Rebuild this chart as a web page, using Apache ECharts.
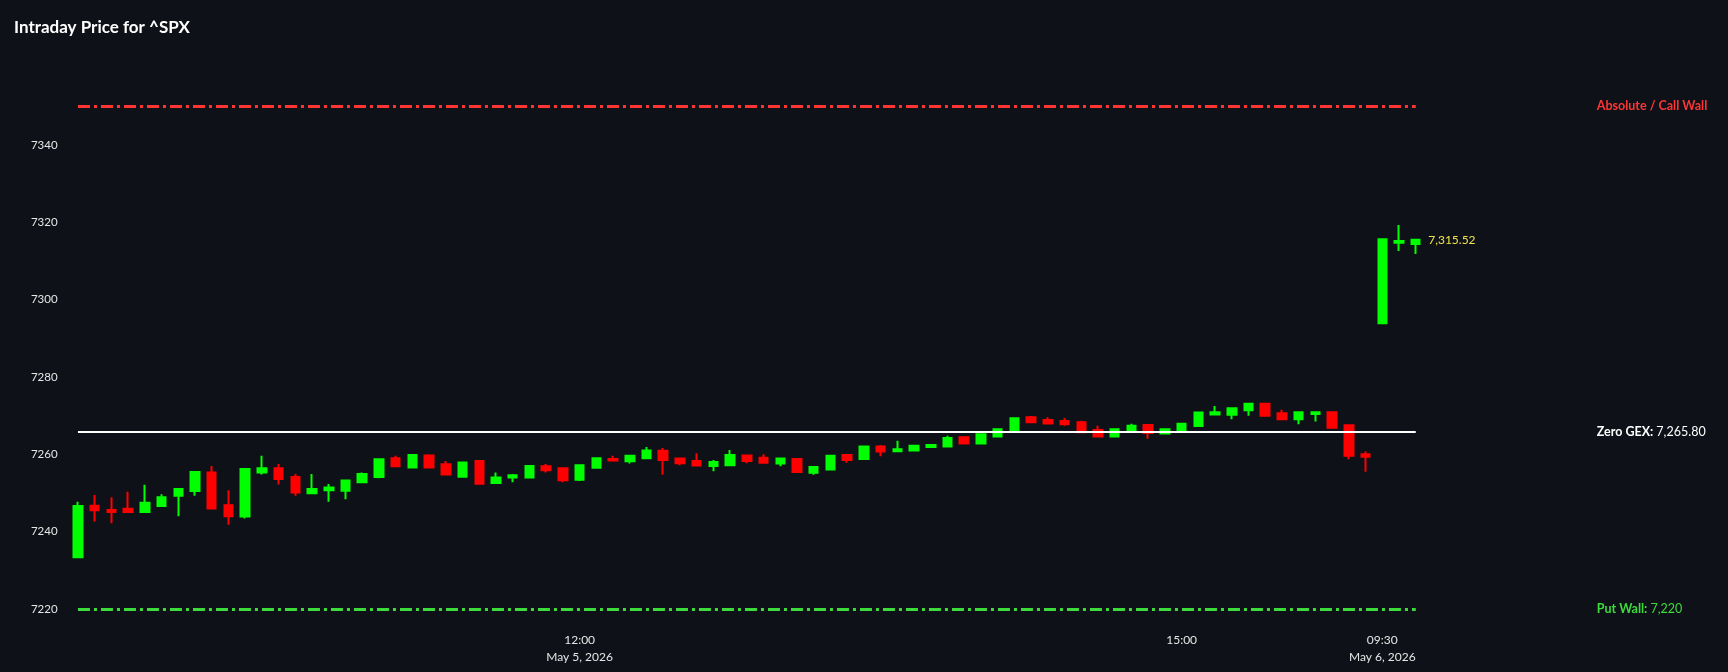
<!DOCTYPE html>
<html>
<head>
<meta charset="utf-8">
<script src="https://cdn.jsdelivr.net/npm/echarts@6/dist/echarts.min.js"></script>
<style>
html,body{margin:0;padding:0;background:#0e1117;}
#chart{width:1728px;height:672px;}
</style>
</head>
<body>
<div id="chart"></div>
<script>
const categories = [
"2026-05-05 09:30","2026-05-05 09:35","2026-05-05 09:40","2026-05-05 09:45","2026-05-05 09:50","2026-05-05 09:55",
"2026-05-05 10:00","2026-05-05 10:05","2026-05-05 10:10","2026-05-05 10:15","2026-05-05 10:20","2026-05-05 10:25",
"2026-05-05 10:30","2026-05-05 10:35","2026-05-05 10:40","2026-05-05 10:45","2026-05-05 10:50","2026-05-05 10:55",
"2026-05-05 11:00","2026-05-05 11:05","2026-05-05 11:10","2026-05-05 11:15","2026-05-05 11:20","2026-05-05 11:25",
"2026-05-05 11:30","2026-05-05 11:35","2026-05-05 11:40","2026-05-05 11:45","2026-05-05 11:50","2026-05-05 11:55",
"2026-05-05 12:00","2026-05-05 12:05","2026-05-05 12:10","2026-05-05 12:15","2026-05-05 12:20","2026-05-05 12:25",
"2026-05-05 12:30","2026-05-05 12:35","2026-05-05 12:40","2026-05-05 12:45","2026-05-05 12:50","2026-05-05 12:55",
"2026-05-05 13:00","2026-05-05 13:05","2026-05-05 13:10","2026-05-05 13:15","2026-05-05 13:20","2026-05-05 13:25",
"2026-05-05 13:30","2026-05-05 13:35","2026-05-05 13:40","2026-05-05 13:45","2026-05-05 13:50","2026-05-05 13:55",
"2026-05-05 14:00","2026-05-05 14:05","2026-05-05 14:10","2026-05-05 14:15","2026-05-05 14:20","2026-05-05 14:25",
"2026-05-05 14:30","2026-05-05 14:35","2026-05-05 14:40","2026-05-05 14:45","2026-05-05 14:50","2026-05-05 14:55",
"2026-05-05 15:00","2026-05-05 15:05","2026-05-05 15:10","2026-05-05 15:15","2026-05-05 15:20","2026-05-05 15:25",
"2026-05-05 15:30","2026-05-05 15:35","2026-05-05 15:40","2026-05-05 15:45","2026-05-05 15:50","2026-05-05 15:55",
"2026-05-06 09:30","2026-05-06 09:35","2026-05-06 09:40"
];
const openVals = [7233.4,7246.7,7245.6,7245.9,7245.1,7246.6,7249.3,7250.5,7255.3,7246.8,7243.9,7255.3,7256.4,7254.1,7249.9,7250.7,7250.6,7252.8,7254.1,7259.0,
7256.6,7259.7,7257.4,7254.2,7258.3,7252.6,7254.0,7254.0,7256.9,7256.4,7253.4,7256.5,7258.8,7258.2,7259.0,7260.9,7258.9,7258.3,7257.0,7257.2,
7259.7,7259.1,7257.6,7258.8,7255.2,7256.1,7259.8,7258.8,7262.0,7260.8,7261.0,7261.9,7262.0,7264.4,7262.8,7264.6,7266.0,7269.6,7268.9,7268.6,
7268.3,7266.3,7264.6,7265.8,7267.6,7265.4,7265.8,7267.3,7270.3,7270.2,7271.4,7273.1,7270.6,7269.1,7270.4,7270.9,7267.5,7260.0,
7293.9,7314.7,7314.4];
const closeVals = [7246.6,7245.5,7245.1,7245.1,7247.5,7248.9,7251.0,7255.4,7246.0,7244.0,7256.2,7256.4,7253.6,7250.1,7251.0,7251.4,7253.2,7254.9,7258.7,7256.9,
7259.8,7256.6,7254.8,7257.9,7252.4,7254.0,7254.6,7257.0,7255.9,7253.3,7257.2,7259.0,7258.4,7259.6,7261.0,7258.5,7257.7,7257.1,7258.0,7259.8,
7258.3,7257.8,7258.9,7255.4,7256.7,7259.6,7258.5,7262.0,7260.7,7261.3,7262.2,7262.4,7264.2,7262.8,7265.2,7266.5,7269.3,7268.3,7268.0,7267.8,
7265.7,7264.6,7266.5,7267.4,7265.5,7266.5,7267.9,7270.8,7270.9,7271.9,7273.1,7270.0,7269.1,7270.9,7270.9,7266.9,7259.6,7259.4,
7315.6,7315.2,7315.52];
const lowVals = [7233.4,7242.6,7242.2,7245.0,7245.1,7246.4,7244.0,7249.3,7245.8,7241.8,7243.4,7254.8,7252.2,7249.3,7249.7,7247.7,7248.4,7252.5,7253.8,7256.8,
7256.5,7256.5,7254.7,7254.1,7252.3,7252.5,7252.8,7253.9,7255.3,7252.8,7253.1,7256.4,7258.3,7257.6,7258.9,7254.7,7257.2,7257.0,7255.6,7257.1,
7257.7,7257.7,7256.9,7255.3,7254.7,7256.0,7257.8,7258.7,7259.5,7260.7,7260.7,7261.8,7261.9,7262.7,7262.7,7264.4,7265.9,7268.2,7267.9,7267.4,
7265.6,7264.5,7264.5,7265.7,7264.0,7265.3,7265.7,7267.2,7270.2,7269.1,7270.0,7269.9,7269.0,7267.8,7268.5,7266.8,7258.7,7255.5,
7293.9,7312.6,7311.8];
const highVals = [7247.7,7249.5,7248.9,7250.3,7252.1,7249.7,7251.2,7255.5,7257.0,7250.7,7256.3,7259.6,7257.5,7254.9,7254.9,7252.3,7253.3,7255.3,7258.8,7259.6,
7260.0,7260.0,7258.3,7258.0,7258.4,7255.3,7254.9,7257.2,7257.5,7256.5,7257.3,7259.2,7259.6,7259.7,7261.9,7261.6,7259.0,7260.3,7258.5,7261.1,
7259.8,7260.0,7259.0,7258.9,7256.8,7259.7,7259.9,7262.1,7262.4,7263.5,7262.3,7262.5,7264.8,7264.5,7265.3,7266.7,7269.4,7269.9,7269.6,7269.4,
7268.7,7267.4,7266.6,7267.9,7267.7,7266.7,7268.0,7270.9,7272.5,7272.0,7273.2,7273.3,7271.5,7271.0,7271.0,7271.0,7267.6,7260.7,
7315.8,7319.3,7315.7];
const callWall = 7350;
const zeroGex = 7265.80;
const putWall = 7220;
const tickCats = ["2026-05-05 12:00","2026-05-05 15:00","2026-05-06 09:30"];
const tickTexts = ["12:00\nMay 5, 2026","15:00","09:30\nMay 6, 2026"];

const fmt = (v, d) => v.toLocaleString('en-US', {minimumFractionDigits: d, maximumFractionDigits: d});
const candleData = openVals.map((o, i) => [o, closeVals[i], lowVals[i], highVals[i]]);
const firstCat = categories[0], lastCat = categories[categories.length - 1];
const lastClose = closeVals[closeVals.length - 1];
const FONT = 'Lato';

const chart = echarts.init(document.getElementById('chart'), null, {renderer: 'canvas'});
chart.setOption({
  backgroundColor: '#0e1117',
  animation: false,
  textStyle: {fontFamily: FONT},
  title: {
    text: 'Intraday Price for ^SPX', left: 9, top: 14,
    textStyle: {color: '#ffffff', fontSize: 17, fontWeight: 'bold', fontFamily: FONT}
  },
  grid: {left: 69.6, right: 303.9, top: 87, bottom: 43.7},
  xAxis: {
    type: 'category', data: categories, boundaryGap: true,
    axisLine: {show: false}, axisTick: {show: false}, splitLine: {show: false},
    axisLabel: {
      color: '#e6e6e6', fontSize: 12, fontFamily: FONT, margin: 3, lineHeight: 17,
      interval: (idx, val) => tickCats.includes(val),
      formatter: (val) => { const k = tickCats.indexOf(val); return k >= 0 ? tickTexts[k] : ''; }
    }
  },
  yAxis: {
    type: 'value', min: 7215, max: 7355, interval: 5, scale: true,
    axisLine: {show: false}, axisTick: {show: false}, splitLine: {show: false},
    axisLabel: {
      color: '#e6e6e6', fontSize: 11.5, fontFamily: FONT, margin: 12,
      formatter: (v) => (v % 20 === 0 ? String(v) : '')
    }
  },
  series: [{
    type: 'candlestick',
    data: candleData,
    barWidth: 9,
    itemStyle: {color: '#00ff00', color0: '#ff0000', borderColor: '#00ff00', borderColor0: '#ff0000', borderWidth: 2},
    markLine: {
      silent: true, symbol: ['none', 'none'], animation: false,
      data: [
        [{coord: [firstCat, callWall], lineStyle: {color: '#ff3535', width: 3, type: [12, 4, 3, 4]},
          label: {show: true, position: 'end', distance: 181, formatter: 'Absolute / Call Wall',
                  color: '#ff3535', fontWeight: 'bold', fontSize: 12.5, fontFamily: FONT}},
         {coord: [lastCat, callWall]}],
        [{coord: [firstCat, zeroGex], lineStyle: {color: '#ffffff', width: 2, type: 'solid'},
          label: {show: true, position: 'end', distance: 181,
                  formatter: '{b|Zero GEX:} {n|' + fmt(zeroGex, 2) + '}',
                  rich: {b: {color: '#ffffff', fontWeight: 'bold', fontSize: 12.5, fontFamily: FONT},
                         n: {color: '#ffffff', fontSize: 12.5, fontFamily: FONT}}}},
         {coord: [lastCat, zeroGex]}],
        [{coord: [firstCat, putWall], lineStyle: {color: '#3ddc3d', width: 3, type: [12, 4, 3, 4]},
          label: {show: true, position: 'end', distance: 181,
                  formatter: '{b|Put Wall:} {n|' + fmt(putWall, 0) + '}',
                  rich: {b: {color: '#3ddc3d', fontWeight: 'bold', fontSize: 12.5, fontFamily: FONT},
                         n: {color: '#3ddc3d', fontSize: 12.5, fontFamily: FONT}}}},
         {coord: [lastCat, putWall]}]
      ]
    },
    markPoint: {
      silent: true, animation: false,
      data: [{coord: [lastCat, lastClose], symbol: 'circle', symbolSize: 1,
              itemStyle: {color: 'rgba(0,0,0,0)'},
              label: {show: true, position: 'right', distance: 12, formatter: fmt(lastClose, 2),
                      color: '#f0e44a', fontSize: 12, fontFamily: FONT}}]
    }
  }]
});
</script>
</body>
</html>
